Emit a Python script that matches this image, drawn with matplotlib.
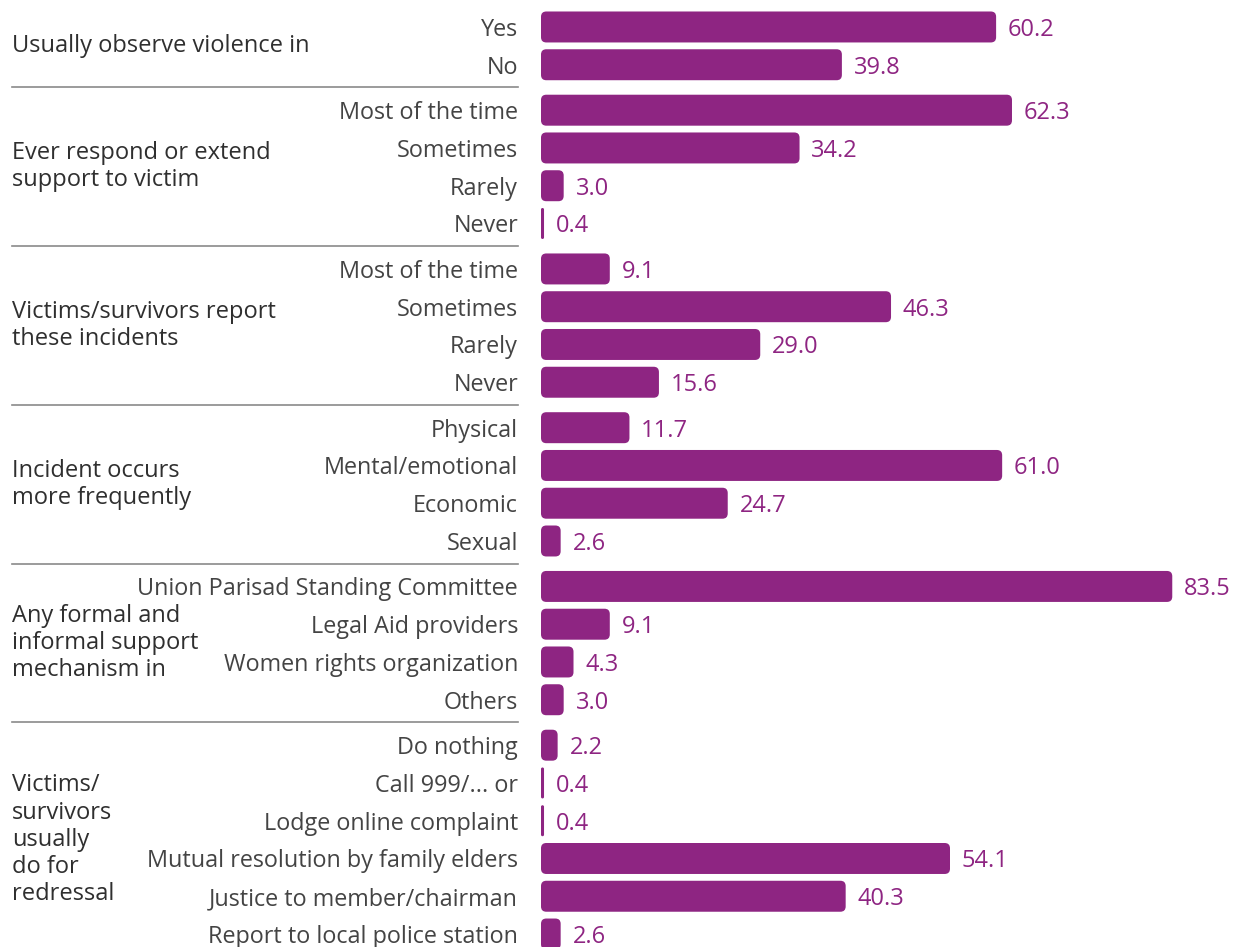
import matplotlib.pyplot as plt
from matplotlib.patches import FancyBboxPatch
from matplotlib.transforms import blended_transform_factory

# survey groups, answer options and shares (%)
groups = [
    "Usually observe violence in",
    "Ever respond or extend\nsupport to victim",
    "Victims/survivors report\nthese incidents",
    "Incident occurs\nmore frequently",
    "Any formal and\ninformal support\nmechanism in",
    "Victims/\nsurvivors\nusually\ndo for\nredressal",
]
options = [
    ["Yes", "No"],
    ["Most of the time", "Sometimes", "Rarely", "Never"],
    ["Most of the time", "Sometimes", "Rarely", "Never"],
    ["Physical", "Mental/emotional", "Economic", "Sexual"],
    ["Union Parisad Standing Committee", "Legal Aid providers",
     "Women rights organization", "Others"],
    ["Do nothing", "Call 999/... or", "Lodge online complaint",
     "Mutual resolution by family elders", "Justice to member/chairman",
     "Report to local police station"],
]
shares = [
    [60.2, 39.8],
    [62.3, 34.2, 3.0, 0.4],
    [9.1, 46.3, 29.0, 15.6],
    [11.7, 61.0, 24.7, 2.6],
    [83.5, 9.1, 4.3, 3.0],
    [2.2, 0.4, 0.4, 54.1, 40.3, 2.6],
]

purple = "#8e2582"
W, H = 1233, 947
px_x = 7.56   # pixels per percentage point
px_y = 37.8   # pixels per row
gap = 45.5 / 37.8

plt.rcParams["font.family"] = ["Open Sans", "DejaVu Sans"]

fig = plt.figure(figsize=(W / 100, H / 100), dpi=100)
left = 541 / W
ax = fig.add_axes([left, 0, 1 - left, 1])
ax.set_xlim(0, (W - 541) / px_x)

# row positions
ypos, labels, vals, centers, seps = [], [], [], [], []
y = 0.0
for gi, (opts, vs) in enumerate(zip(options, shares)):
    if gi > 0:
        seps.append(y + gap / 2)
        y += gap
    first = y
    for j, (o, v) in enumerate(zip(opts, vs)):
        if j > 0:
            y += 1
        ypos.append(y)
        labels.append(o)
        vals.append(v)
    centers.append((first + y) / 2)

top = -27 / px_y
ax.set_ylim(ypos[-1] + (H - 934) / px_y, top)

bh = 31 / px_y
aspect = px_x / px_y
for yy, v in zip(ypos, vals):
    r = min(0.7, v / 2)
    p = FancyBboxPatch((0, yy - bh / 2), v, bh,
                       boxstyle=f"round,pad=0,rounding_size={r}",
                       mutation_aspect=aspect, fc=purple, ec="none")
    ax.add_patch(p)
    ax.annotate(f"{v:.1f}", (v, yy), xytext=(8.5, 0), textcoords="offset points",
                ha="left", va="center_baseline", color=purple, fontsize=17)

ax.set_yticks(ypos, labels)
ax.tick_params(axis="y", length=0, pad=16.5, labelsize=16.8, labelcolor="#444444")
ax.set_xticks([])
for s in ax.spines.values():
    s.set_visible(False)

tr = blended_transform_factory(fig.transFigure, ax.transData)
for c, g in zip(centers, groups):
    ax.text(12 / W, c, g, transform=tr, ha="left", va="center", fontsize=17,
            color="#2f2f2f", linespacing=1.17, fontweight="medium")
for s in seps:
    ax.plot([12 / W, 518 / W], [s, s], transform=tr, color="#8a8a8a",
            lw=1.2, clip_on=False)

fig.savefig("out.png", dpi=100)
